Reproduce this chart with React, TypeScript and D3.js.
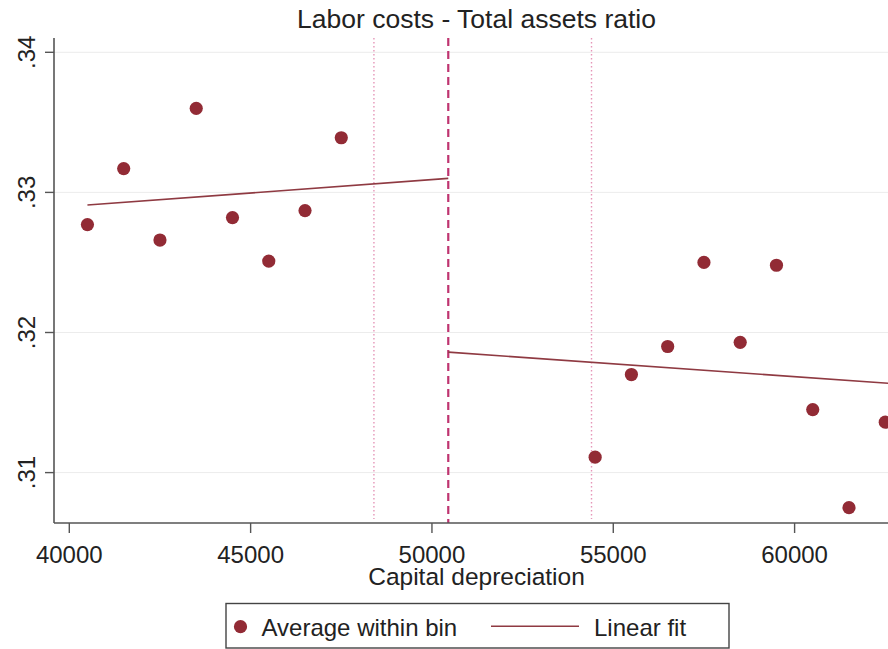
import React from "react";
import * as d3 from "d3";

const binX = [40500, 41500, 42500, 43500, 44500, 45500, 46500, 47500, 54500, 55500, 56500, 57500, 58500, 59500, 60500, 61500, 62500];
const binY = [0.3277, 0.3317, 0.3266, 0.3360, 0.3282, 0.3251, 0.3287, 0.3339, 0.3111, 0.3170, 0.3190, 0.3250, 0.3193, 0.3248, 0.3145, 0.3075, 0.3136];
const fitLeftX = [40500, 50450];
const fitLeftY = [0.3291, 0.3310];
const fitRightX = [50450, 63000];
const fitRightY = [0.3186, 0.3163];
const cutoff = 50450;
const bandLines = [48400, 54400];
const xTicks = [40000, 45000, 50000, 55000, 60000];
const yTicks = [0.31, 0.32, 0.33, 0.34];
const yTickLabels = [".31", ".32", ".33", ".34"];

const W = 888, H = 649;
const left = 54, right = 899, top = 38, bottom = 523;
const font = "Liberation Sans, Arial, sans-serif";
const dotColor = "#922b35";

export default function App() {
  const x = d3.scaleLinear().domain([40000, 60000]).range([69.3, 794.6]);
  const y = d3.scaleLinear().domain([0.31, 0.34]).range([472.6, 52.3]);
  const line = d3.line<[number, number]>().x(d => x(d[0])).y(d => y(d[1]));
  const lp: [number, number][] = fitLeftX.map((v, i) => [v, fitLeftY[i]]);
  const rp: [number, number][] = fitRightX.map((v, i) => [v, fitRightY[i]]);
  return (
    <svg width={W} height={H} style={{ position: "absolute", left: 0, top: 0, background: "#fff" }} fontFamily={font}>
      <defs>
        <clipPath id="plot"><rect x={left} y={top} width={right - left} height={bottom - top} /></clipPath>
      </defs>
      <rect x={0} y={0} width={W} height={H} fill="#fff" />
      {yTicks.map((t, i) => (
        <line key={"g" + i} x1={left} x2={right} y1={y(t)} y2={y(t)} stroke="#ececec" strokeWidth={1} />
      ))}
      {bandLines.map((b, i) => (
        <line key={"b" + i} x1={x(b)} x2={x(b)} y1={top} y2={bottom - 4} stroke="#e596b8" strokeWidth={1.4} strokeDasharray="1.5 2.5" />
      ))}
      <line x1={x(cutoff)} x2={x(cutoff)} y1={top} y2={bottom} stroke="#bf3470" strokeWidth={2.2} strokeDasharray="8 5" />
      <g clipPath="url(#plot)">
        <path d={line(lp) || ""} fill="none" stroke="#8f3a42" strokeWidth={1.6} />
        <path d={line(rp) || ""} fill="none" stroke="#8f3a42" strokeWidth={1.6} />
        {binX.map((v, i) => (
          <circle key={"p" + i} cx={x(v)} cy={y(binY[i])} r={6.6} fill={dotColor} />
        ))}
      </g>
      <line x1={left} x2={left} y1={top} y2={bottom} stroke="#555" strokeWidth={1.6} />
      <line x1={left} x2={right} y1={bottom} y2={bottom} stroke="#555" strokeWidth={1.6} />
      {yTicks.map((t, i) => (
        <g key={"yt" + i}>
          <line x1={left - 9} x2={left} y1={y(t)} y2={y(t)} stroke="#555" strokeWidth={1.4} />
          <text transform={`translate(35,${y(t)}) rotate(-90)`} textAnchor="middle" fontSize={24} fill="#222">{yTickLabels[i]}</text>
        </g>
      ))}
      {xTicks.map((t, i) => (
        <g key={"xt" + i}>
          <line x1={x(t)} x2={x(t)} y1={bottom} y2={bottom + 10} stroke="#555" strokeWidth={1.4} />
          <text x={x(t)} y={562.5} textAnchor="middle" fontSize={24} fill="#222">{d3.format("d")(t)}</text>
        </g>
      ))}
      <text x={476.5} y={585} textAnchor="middle" fontSize={24.5} fill="#222">Capital depreciation</text>
      <text x={476.5} y={28} textAnchor="middle" fontSize={26.5} fill="#222">Labor costs - Total assets ratio</text>
      <rect x={226} y={603.5} width={503} height={44.5} fill="#fff" stroke="#444" strokeWidth={1.4} />
      <circle cx={240.5} cy={626.7} r={6.6} fill={dotColor} />
      <text x={261.5} y={635.5} fontSize={24} fill="#222">Average within bin</text>
      <line x1={491} x2={579} y1={626.3} y2={626.3} stroke="#8f3a42" strokeWidth={1.6} />
      <text x={594} y={635.5} fontSize={24} fill="#222">Linear fit</text>
    </svg>
  );
}
